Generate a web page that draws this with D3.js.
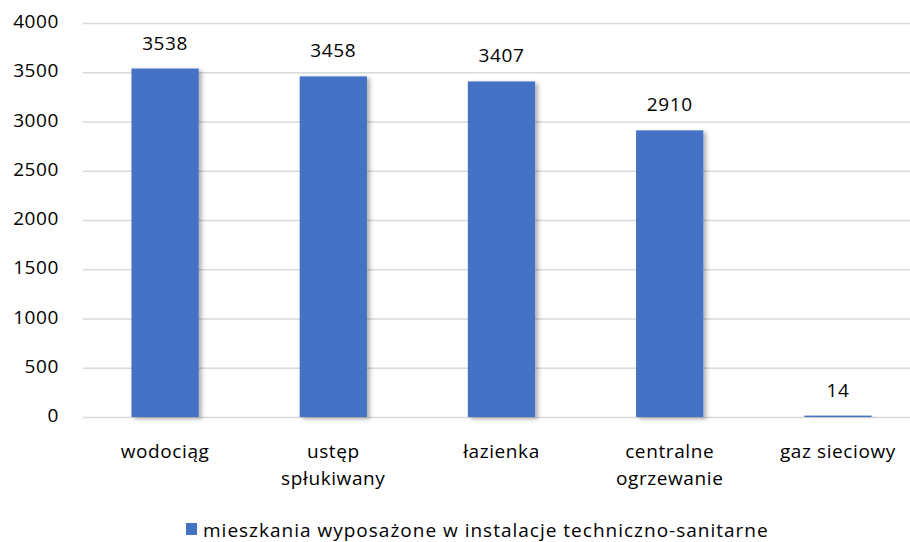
<!DOCTYPE html>
<html>
<head>
<meta charset="utf-8">
<script src="https://cdn.jsdelivr.net/npm/d3@7"></script>
<style>
  body { margin: 0; background: #fff; }
  text { font-family: "Open Sans", "Liberation Sans", sans-serif; fill: #000; font-size: 19px; letter-spacing: 0.6px; }
</style>
</head>
<body>
<div id="chart"></div>
<script>
const categories = [["wodociąg"], ["ustęp", "spłukiwany"], ["łazienka"], ["centralne", "ogrzewanie"], ["gaz sieciowy"]];
const values = [3538, 3458, 3407, 2910, 14];
const yTicks = [0, 500, 1000, 1500, 2000, 2500, 3000, 3500, 4000];
const seriesName = "mieszkania wyposażone w instalacje techniczno-sanitarne";

const width = 910, height = 542;
const svg = d3.select("#chart").append("svg")
    .attr("width", width)
    .attr("height", height);

const defs = svg.append("defs");
const shadow = defs.append("filter").attr("id", "shadow")
    .attr("x", "-20%").attr("y", "-5%").attr("width", "150%").attr("height", "115%");
shadow.append("feDropShadow")
    .attr("dx", 3).attr("dy", 2).attr("stdDeviation", 2)
    .attr("flood-color", "#000").attr("flood-opacity", 0.3);

const x = d3.scaleBand()
    .domain(d3.range(values.length))
    .range([81, 922])
    .paddingInner(0.6)
    .paddingOuter(0.3);

const y = d3.scaleLinear().domain([0, 4000]).range([417, 23]);

// gridlines
svg.append("g").selectAll("line")
    .data(yTicks)
    .join("line")
    .attr("x1", 83).attr("x2", width)
    .attr("y1", d => y(d) + 0.5).attr("y2", d => y(d) + 0.5)
    .attr("stroke", "#d9d9d9")
    .attr("stroke-width", 1.3);

// y tick labels
svg.append("g").selectAll("text")
    .data(yTicks)
    .join("text")
    .attr("x", 59)
    .attr("y", d => y(d))
    .attr("text-anchor", "end")
    .attr("dominant-baseline", "middle")
    .text(d => d);

// bars
svg.append("g").selectAll("rect")
    .data(values)
    .join("rect")
    .attr("x", (d, i) => x(i))
    .attr("y", d => y(d))
    .attr("width", x.bandwidth())
    .attr("height", d => y(0) - y(d))
    .attr("fill", "#4472c4")
    .attr("filter", "url(#shadow)");

// value labels
svg.append("g").selectAll("text")
    .data(values)
    .join("text")
    .attr("x", (d, i) => x(i) + x.bandwidth() / 2)
    .attr("y", d => y(d) - 19)
    .attr("text-anchor", "middle")
    .text(d => d);

// category labels
const cat = svg.append("g").selectAll("text")
    .data(categories)
    .join("text")
    .attr("x", (d, i) => x(i) + x.bandwidth() / 2)
    .attr("y", 458)
    .attr("text-anchor", "middle");
cat.selectAll("tspan")
    .data(d => d)
    .join("tspan")
    .attr("x", function() { return d3.select(this.parentNode).attr("x"); })
    .attr("dy", (d, i) => i === 0 ? 0 : 27)
    .text(d => d);

// legend
const legend = svg.append("g");
legend.append("rect")
    .attr("x", 186).attr("y", 523)
    .attr("width", 11).attr("height", 12)
    .attr("fill", "#4472c4");
legend.append("text")
    .attr("x", 203).attr("y", 537)
    .style("letter-spacing", "1px")
    .text(seriesName);
</script>
</body>
</html>
